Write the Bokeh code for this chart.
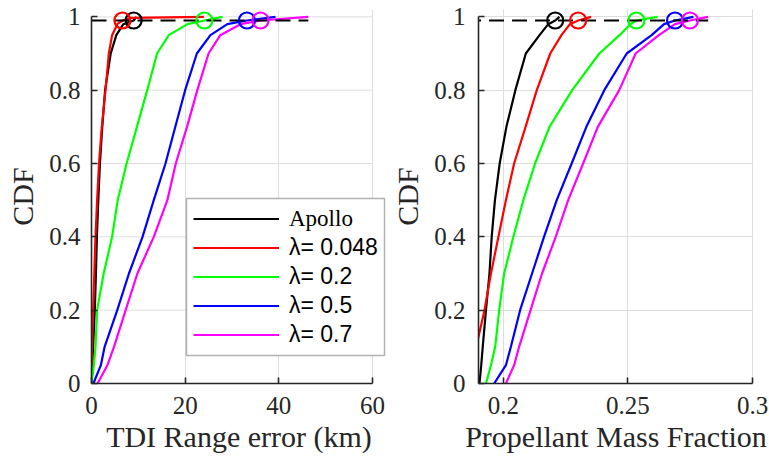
from bokeh.plotting import figure
from bokeh.layouts import row
from bokeh.models import FixedTicker, Legend, LegendItem, BoxAnnotation
from bokeh.embed import file_html
from bokeh.resources import INLINE

# ---------------- data ----------------
series_names = ["Apollo", "λ= 0.048", "λ= 0.2", "λ= 0.5", "λ= 0.7"]
series_colors = ["#000000", "#ff0000", "#00ff00", "#0000ff", "#ff00ff"]

cdf_levels = [0, 0.05, 0.1, 0.2, 0.3, 0.4, 0.5, 0.6, 0.7, 0.8, 0.9, 0.95, 0.98, 0.99, 1.0]
target_level = 0.99

# TDI range error (km) at each CDF level
range_apollo = [0, 0.2, 0.35, 0.7, 0.95, 1.15, 1.45, 1.8, 2.3, 2.9, 4.1, 5.3, 6.8, 9.0, 9.6]
range_l0048 = [0, 0.05, 0.12, 0.35, 0.6, 0.85, 1.2, 1.6, 2.2, 3.0, 3.7, 4.4, 5.5, 6.6, 8.3, 24.0]
range_l0048_levels = [0, 0.05, 0.1, 0.2, 0.3, 0.4, 0.5, 0.6, 0.7, 0.8, 0.9, 0.95, 0.98, 0.99, 0.997, 1.0]
range_l02 = [0, 0.5, 0.85, 1.2, 2.6, 4.4, 5.6, 7.5, 9.7, 11.9, 14.0, 16.5, 20.5, 24.1, 28.0]
range_l05 = [0.4, 2.0, 2.8, 5.5, 8.0, 10.9, 13.3, 15.8, 17.9, 20.0, 22.5, 25.4, 29.0, 33.2, 39.3]
range_l07 = [1.3, 3.4, 4.8, 7.3, 9.8, 13.3, 16.2, 18.0, 20.4, 22.6, 25.0, 27.5, 31.8, 36.1, 46.3]
range_p99 = [9.0, 6.6, 24.1, 33.2, 36.1]

# Propellant mass fraction at each CDF level
pmf_apollo = [0.1904, 0.1911, 0.1917, 0.1930, 0.1944, 0.1953, 0.1966, 0.1985, 0.2012, 0.2048, 0.2090, 0.2145, 0.2180, 0.2208, 0.2225]
pmf_l0048 = [0.1850, 0.1875, 0.1891, 0.1924, 0.1950, 0.1980, 0.2010, 0.2043, 0.2089, 0.2134, 0.2188, 0.2233, 0.2267, 0.2300, 0.2352]
pmf_l02 = [0.1930, 0.1950, 0.1967, 0.1983, 0.2003, 0.2040, 0.2080, 0.2127, 0.2185, 0.2276, 0.2385, 0.2466, 0.2510, 0.2534, 0.2619]
pmf_l05 = [0.1963, 0.2010, 0.2030, 0.2067, 0.2115, 0.2163, 0.2214, 0.2274, 0.2333, 0.2405, 0.2495, 0.2595, 0.2645, 0.2689, 0.2763]
pmf_l07 = [0.2010, 0.2043, 0.2063, 0.2109, 0.2155, 0.2210, 0.2260, 0.2320, 0.2379, 0.2465, 0.2531, 0.2624, 0.2689, 0.2749, 0.2822]
pmf_p99 = [0.2208, 0.2300, 0.2534, 0.2689, 0.2749]

range_ticks = [0, 20, 40, 60]
range_tick_labels = ["0", "20", "40", "60"]
pmf_ticks = [0.2, 0.25, 0.3]
pmf_tick_labels = ["0.2", "0.25", "0.3"]
cdf_ticks = [0, 0.2, 0.4, 0.6, 0.8, 1.0]
cdf_tick_labels = ["0", "0.2", "0.4", "0.6", "0.8", "1"]

# ---------------- style ----------------
SERIF = '"Liberation Serif", "Times New Roman", serif'
SANS = '"Liberation Sans", Arial, sans-serif'
AX = "#262626"
GRID = "#dedede"
HEIGHT = 464
BORDER_TOP, BORDER_BOTTOM = 9, 81
Y_END = 1.02


def style(p, xticks, xlabels, xlabel, xbounds, ystandoff):
    p.background_fill_color = "white"
    p.border_fill_color = "white"
    p.outline_line_color = None
    for ax in (p.xaxis[0], p.yaxis[0]):
        ax.axis_line_color = AX
        ax.axis_line_width = 1.6
        ax.major_tick_line_color = AX
        ax.major_tick_line_width = 1.6
        ax.major_tick_in = 6
        ax.major_tick_out = 0
        ax.minor_tick_line_color = None
        ax.major_label_text_font = SERIF
        ax.major_label_text_font_size = "25px"
        ax.major_label_text_color = AX
        ax.axis_label_text_font = SERIF
        ax.axis_label_text_font_size = "30px"
        ax.axis_label_text_font_style = "normal"
        ax.axis_label_text_color = AX
    p.xaxis[0].ticker = FixedTicker(ticks=xticks)
    p.xaxis[0].major_label_overrides = {t: l for t, l in zip(xticks, xlabels)}
    p.xaxis[0].bounds = xbounds
    p.yaxis[0].ticker = FixedTicker(ticks=cdf_ticks)
    p.yaxis[0].major_label_overrides = {t: l for t, l in zip(cdf_ticks, cdf_tick_labels)}
    p.yaxis[0].bounds = (0, 1)
    p.xaxis[0].axis_label = xlabel
    p.yaxis[0].axis_label = "CDF"
    p.xaxis[0].major_label_standoff = 13
    p.xaxis[0].axis_label_standoff = 3
    p.yaxis[0].major_label_standoff = ystandoff
    p.yaxis[0].axis_label_standoff = 7
    p.xgrid[0].ticker = FixedTicker(ticks=xticks)
    p.ygrid[0].ticker = FixedTicker(ticks=cdf_ticks)
    for g in (p.xgrid[0], p.ygrid[0]):
        g.grid_line_color = GRID
        g.grid_line_width = 1


def build(width, xr, xticks, xlabels, xlabel, xbounds, xs_list, ys_list, p99, bl, br, ystandoff):
    p = figure(width=width, height=HEIGHT, x_range=xr, y_range=(0, Y_END),
               output_backend="svg", toolbar_location=None,
               min_border_left=bl, min_border_right=br,
               min_border_top=BORDER_TOP, min_border_bottom=BORDER_BOTTOM)
    style(p, xticks, xlabels, xlabel, xbounds, ystandoff)
    rends = []
    for xs, ys, c in zip(xs_list, ys_list, series_colors):
        rends.append(p.line(xs, ys, line_color=c, line_width=2.2))
    allx = [v for xs in xs_list for v in xs]
    p.line([min(allx), max(allx)], [target_level, target_level],
           line_color="black", line_width=2.2, line_dash="15 8")
    for x, c in zip(p99, series_colors):
        p.scatter([x], [target_level], marker="circle", size=16,
                  fill_color=None, line_color=c, line_width=2.2)
    return p, rends


W1, BL1, BR1, X1_END = 388, 91, 2, 63.0
p1, r1 = build(W1, (0, X1_END), range_ticks, range_tick_labels, "TDI Range error (km)",
               (range_ticks[0], range_ticks[-1]),
               [range_apollo, range_l0048, range_l02, range_l05, range_l07],
               [cdf_levels, range_l0048_levels, cdf_levels, cdf_levels, cdf_levels],
               range_p99, BL1, BR1, 11)
# horizontal grid of the left panel stops at the last x tick
p1.ygrid[0].visible = False
p1.segment(x0=[range_ticks[0]] * (len(cdf_ticks) - 1), x1=[range_ticks[-1]] * (len(cdf_ticks) - 1),
           y0=cdf_ticks[1:], y1=cdf_ticks[1:], line_color=GRID, line_width=1, level="underlay")

p2, r2 = build(381, (0.19, 0.3004), pmf_ticks, pmf_tick_labels, "Propellant Mass Fraction",
               (0.19, pmf_ticks[-1]),
               [pmf_apollo, pmf_l0048, pmf_l02, pmf_l05, pmf_l07],
               [cdf_levels] * 5, pmf_p99, 86, 16, 13)

# ---------------- legend ----------------
# frame-relative pixel layout of the legend box (left, bottom, width, height)
LEG_X, LEG_Y, LEG_W, LEG_H = 95, 28, 198, 157
PAD, SPACING, ROW = 7, 2, 27
frame_w = W1 - BL1 - BR1
frame_h = HEIGHT - BORDER_TOP - BORDER_BOTTOM
px_to_x = X1_END / frame_w
px_to_y = Y_END / frame_h
p1.add_layout(BoxAnnotation(left=LEG_X * px_to_x, right=(LEG_X + LEG_W) * px_to_x,
                            bottom=LEG_Y * px_to_y, top=(LEG_Y + LEG_H) * px_to_y,
                            fill_color="white", fill_alpha=1.0,
                            line_color="black", line_width=1.5, level="annotation"))

common = dict(padding=PAD, spacing=SPACING, glyph_height=ROW, label_height=ROW,
              glyph_width=86, label_standoff=10, margin=0,
              border_line_alpha=0, background_fill_alpha=0, label_text_color="black",
              label_text_font_size="23px")
n_lambda = len(series_names) - 1
leg_b = Legend(items=[LegendItem(label=n, renderers=[r]) for n, r in zip(series_names[1:], r1[1:])],
               location=(LEG_X, LEG_Y), label_text_font=SANS, **common)
lambda_h = 2 * PAD + n_lambda * ROW + (n_lambda - 1) * SPACING
apollo_h = 2 * PAD + ROW
leg_a = Legend(items=[LegendItem(label=series_names[0], renderers=[r1[0]])],
               location=(LEG_X, LEG_Y + lambda_h + SPACING + ROW - apollo_h),
               label_text_font=SERIF, **common)
p1.add_layout(leg_b, "center")
p1.add_layout(leg_a, "center")

layout = row(p1, p2)
open("out.html", "w").write(file_html(layout, INLINE))
